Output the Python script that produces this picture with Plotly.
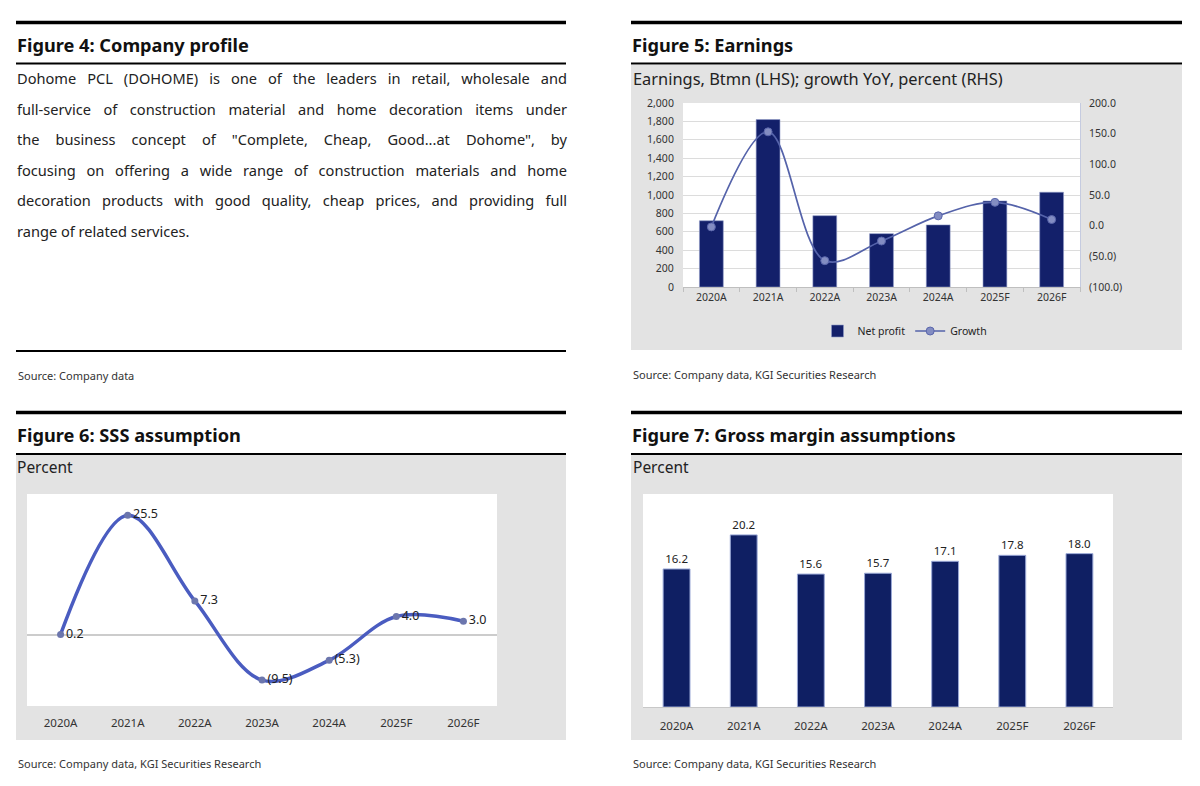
import json
import plotly.graph_objects as go

W, H = 1200, 786
FONT = "Noto Sans"

years = ["2020A", "2021A", "2022A", "2023A", "2024A", "2025F", "2026F"]
net_profit = [720, 1820, 775, 580, 675, 935, 1030]
growth = [-2, 153, -57, -25, 16, 38, 10]
sss = [0.2, 25.5, 7.3, -9.5, -5.3, 4.0, 3.0]
sss_labels = ["0.2", "25.5", "7.3", "(9.5)", "(5.3)", "4.0", "3.0"]
gross_margin = [16.2, 20.2, 15.6, 15.7, 17.1, 17.8, 18.0]

lhs_ticks = [0, 200, 400, 600, 800, 1000, 1200, 1400, 1600, 1800, 2000]
lhs_labels = ["0", "200", "400", "600", "800", "1,000", "1,200", "1,400", "1,600", "1,800", "2,000"]
rhs_ticks = [-100, -50, 0, 50, 100, 150, 200]
rhs_labels = ["(100.0)", "(50.0)", "0.0", "50.0", "100.0", "150.0", "200.0"]

profile_lines = [
    "Dohome PCL (DOHOME) is one of the leaders in retail, wholesale and",
    "full-service of construction material and home decoration items under",
    "the business concept of \"Complete, Cheap, Good...at Dohome\", by",
    "focusing on offering a wide range of construction materials and home",
    "decoration products with good quality, cheap prices, and providing full",
    "range of related services.",
]


def px(x):
    return x / W


def py(y):
    return 1 - y / H


NAVY = "#13206a"
GRAY_BG = "#e3e3e3"

fig = go.Figure()

# Figure 5 traces
fig.add_trace(go.Bar(x=years, y=net_profit, name="Net profit",
                     marker=dict(color=NAVY, line=dict(color="#8e9ac8", width=0.6)),
                     width=0.42, xaxis="x", yaxis="y", showlegend=True))
fig.add_trace(go.Scatter(x=years, y=growth, name="Growth", mode="lines+markers",
                         line=dict(color="#5563aa", width=1.7, shape="spline", smoothing=1.0),
                         marker=dict(color="#838dc2", size=8, line=dict(color="#5a66ac", width=1)),
                         xaxis="x", yaxis="y2", showlegend=True))

# Figure 6 trace
fig.add_trace(go.Scatter(x=years, y=sss, mode="lines+markers+text", text=sss_labels,
                         textposition="middle right", textfont=dict(size=12.5, color="#222", family=FONT),
                         line=dict(color="#4a5cc0", width=3.5, shape="spline", smoothing=1.0),
                         marker=dict(color="#6c76ad", size=7, symbol="circle"),
                         xaxis="x3", yaxis="y3", showlegend=False))

# Figure 7 trace
fig.add_trace(go.Bar(x=years, y=gross_margin, text=[f"{v:.1f}" for v in gross_margin],
                     textposition="outside", textfont=dict(size=11.5, color="#222", family=FONT),
                     marker=dict(color="#0f1f63", line=dict(color="#9aa8d6", width=1)),
                     width=0.4, cliponaxis=False,
                     xaxis="x4", yaxis="y4", showlegend=False))

shapes = []
annotations = []


def hline(x0, x1, y, w):
    shapes.append(dict(type="line", xref="paper", yref="paper", x0=px(x0), x1=px(x1),
                       y0=py(y), y1=py(y), line=dict(color="black", width=w), layer="above"))


def rect(x0, x1, y0, y1, color):
    shapes.append(dict(type="rect", xref="paper", yref="paper", x0=px(x0), x1=px(x1),
                       y0=py(y1), y1=py(y0), fillcolor=color, line=dict(width=0), layer="below"))


def text(x, y, s, size, bold=False, color="#111", xanchor="left"):
    annotations.append(dict(xref="paper", yref="paper", x=px(x), y=py(y), text=s, showarrow=False,
                            xanchor=xanchor, yanchor="middle", align="left",
                            font=dict(family=FONT, size=size, color=color,
                                      weight="bold" if bold else "normal")))


# Panel frames
for (x0, x1) in [(16, 566), (631, 1182)]:
    hline(x0, x1, 22.5, 3.5)
    hline(x0, x1, 412.5, 3.5)
    hline(x0, x1, 63.5, 2)
    hline(x0, x1, 454, 2)
hline(16, 566, 351, 2)

rect(631, 1182, 65, 350, GRAY_BG)
rect(16, 566, 455, 740, GRAY_BG)
rect(631, 1182, 455, 740, GRAY_BG)

# Titles
text(15, 45, "Figure 4: Company profile", 18.2, bold=True)
text(630, 45, "Figure 5: Earnings", 18.2, bold=True)
text(15, 435, "Figure 6: SSS assumption", 18.2, bold=True)
text(630, 435, "Figure 7: Gross margin assumptions", 18.2, bold=True)

# Paragraph
for i, line in enumerate(profile_lines):
    text(15, 78 + i * 30.6, line, 14.6, color="#222")

# Subtitles
text(631, 78, "Earnings, Btmn (LHS); growth YoY, percent (RHS)", 16.4, color="#222")
text(15, 467, "Percent", 15.5, color="#222")
text(631, 467, "Percent", 15.5, color="#222")

# Sources
text(16, 375, "Source: Company data", 11, color="#333")
text(631, 374, "Source: Company data, KGI Securities Research", 11, color="#333")
text(16, 763, "Source: Company data, KGI Securities Research", 11, color="#333")
text(631, 763, "Source: Company data, KGI Securities Research", 11, color="#333")

# plot area white backgrounds
rect(683, 1080, 103, 287, "white")
rect(27, 497, 494, 706, "white")
rect(643, 1113, 494, 707, "white")

tickfont = dict(family=FONT, size=10.5, color="#333")
tickfont2 = dict(family=FONT, size=11.5, color="#333")

fig.update_layout(
    width=W, height=H,
    margin=dict(l=0, r=0, t=0, b=0, autoexpand=False),
    paper_bgcolor="white",
    plot_bgcolor="rgba(0,0,0,0)",
    font=dict(family=FONT),
    shapes=shapes,
    annotations=annotations,
    legend=dict(orientation="h", x=px(905), y=py(331), xanchor="center", yanchor="middle",
                bgcolor="rgba(0,0,0,0)", font=dict(family=FONT, size=10.5, color="#222"),
                tracegroupgap=0),
    xaxis=dict(domain=[px(683), px(1080)], anchor="y", type="category", tickfont=tickfont,
               range=[-0.5, 6.5],
               showgrid=False, showline=True, linecolor="#bfbfbf", linewidth=1,
               ticks="outside", tickson="boundaries", ticklen=4, tickcolor="#bfbfbf",
               fixedrange=True),
    yaxis=dict(domain=[py(287), py(103)], anchor="x", range=[0, 2000], tickvals=lhs_ticks,
               ticktext=lhs_labels, tickfont=tickfont, showgrid=True, gridcolor="#dcdcdc",
               gridwidth=1, zeroline=False, showline=False, ticks="outside", ticklen=6,
               tickcolor="rgba(0,0,0,0)"),
    yaxis2=dict(overlaying="y", side="right", anchor="x", range=[-100, 200], tickvals=rhs_ticks,
                ticktext=rhs_labels, tickfont=tickfont, showgrid=False, zeroline=False,
                showline=True, linecolor="#c5cbe0", linewidth=1, ticks="outside", ticklen=6,
                tickcolor="rgba(0,0,0,0)"),
    xaxis3=dict(domain=[px(27), px(497)], anchor="y3", type="category", tickfont=tickfont2,
                range=[-0.5, 6.5],
                showgrid=False, showline=False, ticks="", ticklabelstandoff=8),
    yaxis3=dict(domain=[py(706), py(494)], anchor="x3", range=[-15, 30], showgrid=False,
                showticklabels=False, zeroline=True, zerolinecolor="#cccccc", zerolinewidth=2,
                showline=False),
    xaxis4=dict(domain=[px(643), px(1113)], anchor="y4", type="category", tickfont=tickfont2,
                range=[-0.5, 6.5],
                showgrid=False, showline=True, linecolor="#c8c8c8", linewidth=1, ticks="",
                ticklabelstandoff=8),
    yaxis4=dict(domain=[py(707), py(494)], anchor="x4", range=[0, 25], showgrid=False,
                showticklabels=False, zeroline=False, showline=False),
)

justify_js = """
document.body.style.margin = '0';
document.body.style.padding = '0';
document.documentElement.style.margin = '0';
var gd = document.getElementById('{plot_id}');
var targets = %s;
var targetWidth = %f;
function justify() {
  var nodes = gd.querySelectorAll('text.annotation-text');
  nodes.forEach(function(t) {
    var s = t.textContent;
    if (targets.indexOf(s) < 0) return;
    t.style.wordSpacing = '0px';
    var w = t.getComputedTextLength();
    var n = (s.match(/ /g) || []).length;
    if (n > 0 && w < targetWidth) {
      t.style.wordSpacing = ((targetWidth - w) / n) + 'px';
    }
  });
}
justify();
if (document.fonts && document.fonts.ready) { document.fonts.ready.then(justify); }
setTimeout(justify, 200);
""" % (json.dumps(profile_lines[:-1]), 550.0)

fig.write_html("out.html", post_script=justify_js,
               config={"displayModeBar": False, "staticPlot": True})
